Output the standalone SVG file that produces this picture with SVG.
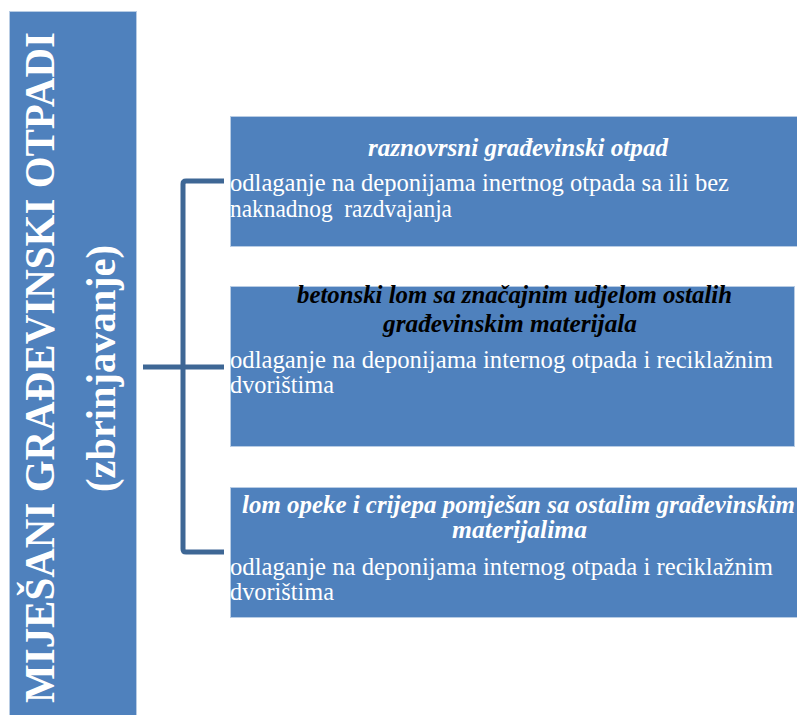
<svg xmlns="http://www.w3.org/2000/svg" width="797" height="715" viewBox="0 0 797 715">
<style>
.box{fill:#4f81bd;stroke:#b8cce4;stroke-width:1}
.conn{fill:none;stroke:#3e6795;stroke-width:5;stroke-linejoin:round;stroke-linecap:butt}
text{font-family:'Liberation Serif','DejaVu Serif',serif}
.side{font-weight:bold;font-size:43px;fill:#ffffff}
.title{font-weight:bold;font-style:italic;font-size:24.5px;fill:#ffffff}
.dark{fill:#000000}
.body{font-size:25px;fill:#ffffff}
</style>
<rect width="797" height="715" fill="#ffffff"/>
<g id="connectors">
<path class="conn" d="M224,181 H186 Q183,181 183,184 V549 Q183,552 186,552 H224"/>
<path class="conn" d="M143,367 H224"/>
</g>
<g id="node-root">
<rect class="box" x="9.5" y="11.5" width="127" height="710"/>
<text class="side" transform="translate(54,367.5) rotate(-90)" text-anchor="middle" textLength="671" lengthAdjust="spacingAndGlyphs">MIJEŠANI GRAĐEVINSKI OTPADI</text>
<text class="side" transform="translate(115,368.5) rotate(-90)" text-anchor="middle" textLength="247" lengthAdjust="spacingAndGlyphs">(zbrinjavanje)</text>
</g>
<g id="node-1">
<rect class="box" x="230.5" y="116.5" width="570" height="130"/>
<text class="title" x="518" y="156" text-anchor="middle" textLength="300" lengthAdjust="spacingAndGlyphs">raznovrsni građevinski otpad</text>
<text class="body" x="230" y="191" textLength="499" lengthAdjust="spacingAndGlyphs">odlaganje na deponijama inertnog otpada sa ili bez</text>
<text class="body" x="230" y="217" textLength="222" lengthAdjust="spacingAndGlyphs" xml:space="preserve">naknadnog  razdvajanja</text>
</g>
<g id="node-2">
<rect class="box" x="230.5" y="286.5" width="564" height="160"/>
<text class="title dark" x="514.5" y="303" text-anchor="middle" textLength="435" lengthAdjust="spacingAndGlyphs">betonski lom sa značajnim udjelom ostalih</text>
<text class="title dark" x="510" y="332" text-anchor="middle" textLength="254" lengthAdjust="spacingAndGlyphs">građevinskim materijala</text>
<text class="body" x="230" y="368" textLength="543" lengthAdjust="spacingAndGlyphs">odlaganje na deponijama internog otpada i reciklažnim</text>
<text class="body" x="230" y="393" textLength="104" lengthAdjust="spacingAndGlyphs">dvorištima</text>
</g>
<g id="node-3">
<rect class="box" x="230.5" y="487.5" width="570" height="130"/>
<text class="title" x="518.5" y="513" text-anchor="middle" textLength="553" lengthAdjust="spacingAndGlyphs">lom opeke i crijepa pomješan sa ostalim građevinskim</text>
<text class="title" x="519.5" y="538" text-anchor="middle" textLength="135" lengthAdjust="spacingAndGlyphs">materijalima</text>
<text class="body" x="230" y="575" textLength="543" lengthAdjust="spacingAndGlyphs">odlaganje na deponijama internog otpada i reciklažnim</text>
<text class="body" x="230" y="600" textLength="104" lengthAdjust="spacingAndGlyphs">dvorištima</text>
</g>
</svg>
